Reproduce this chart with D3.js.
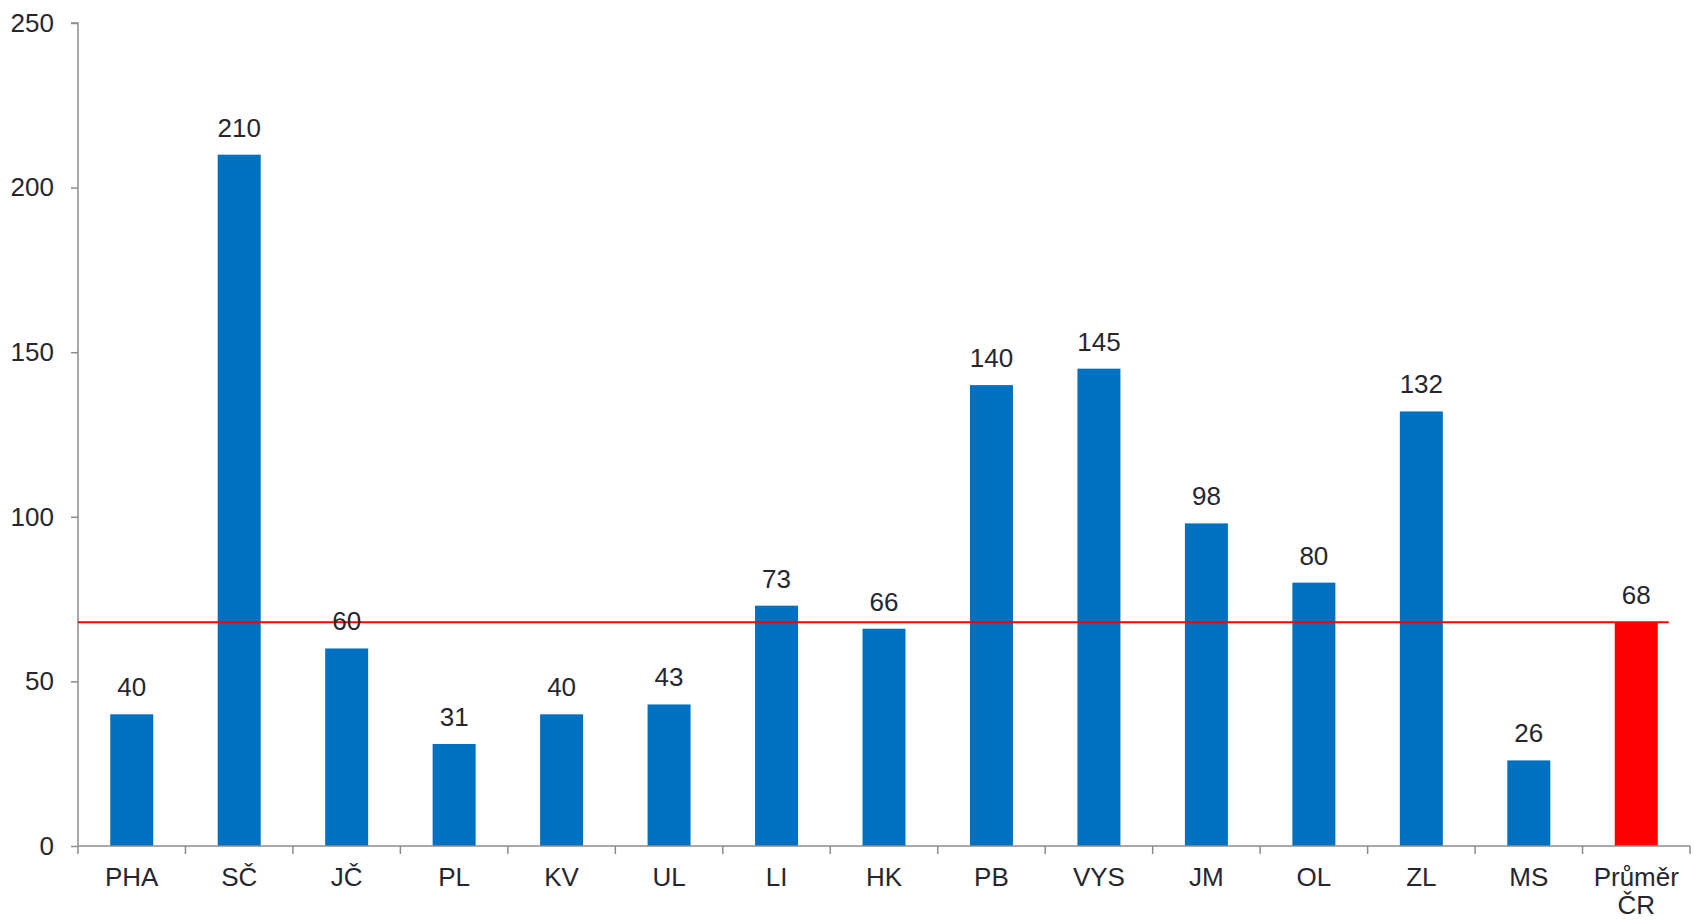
<!DOCTYPE html>
<html>
<head>
<meta charset="utf-8">
<script src="https://cdn.jsdelivr.net/npm/d3@7"></script>
<style>
  body { margin: 0; background: #fff; }
  text { font-family: "Liberation Sans", Arial, sans-serif; }
</style>
</head>
<body>
<div id="wrapper"></div>
<script>
// data
const categories = ["PHA", "SČ", "JČ", "PL", "KV", "UL", "LI", "HK", "PB", "VYS", "JM", "OL", "ZL", "MS", "Průměr\nČR"];
const values = [40, 210, 60, 31, 40, 43, 73, 66, 140, 145, 98, 80, 132, 26, 68];
const averageValue = 68;
const yTicks = [0, 50, 100, 150, 200, 250];

const dimensions = {
  width: 1694,
  height: 920,
  margin: { top: 23, right: 4, bottom: 74, left: 78 }
};
dimensions.boundedWidth = dimensions.width - dimensions.margin.left - dimensions.margin.right;
dimensions.boundedHeight = dimensions.height - dimensions.margin.top - dimensions.margin.bottom;

const svg = d3.select("#wrapper")
  .append("svg")
  .attr("width", dimensions.width)
  .attr("height", dimensions.height);

const bounds = svg.append("g")
  .attr("transform", `translate(${dimensions.margin.left},${dimensions.margin.top})`);

// scales
const xScale = d3.scaleBand()
  .domain(categories)
  .range([0, dimensions.boundedWidth])
  .paddingInner(0.6)
  .paddingOuter(0.3);

const yScale = d3.scaleLinear()
  .domain([0, 250])
  .range([dimensions.boundedHeight, 0]);

const axisColor = "#8c8c8c";
const textColor = "#26262e";
const fontSize = "26px";

// y axis
const yAxis = bounds.append("g")
  .call(d3.axisLeft(yScale).tickValues(yTicks).tickSize(7).tickPadding(17));
yAxis.selectAll("path, line").attr("stroke", axisColor).attr("stroke-width", 1.5);
yAxis.select(".domain").attr("d", `M-7,0H0V${dimensions.boundedHeight}`);
yAxis.selectAll("text")
  .attr("fill", textColor)
  .style("font-size", fontSize)
  .style("font-family", "'Liberation Sans', Arial, sans-serif");

// bars
bounds.selectAll(".bar")
  .data(values)
  .join("rect")
  .attr("class", "bar")
  .attr("x", (d, i) => xScale(categories[i]))
  .attr("width", xScale.bandwidth())
  .attr("y", (d) => yScale(d))
  .attr("height", (d) => dimensions.boundedHeight - yScale(d))
  .attr("fill", (d, i) => i === categories.length - 1 ? "#ff0000" : "#0070c0");

// average line
const stepWidth = xScale.step();
bounds.append("line")
  .attr("x1", 0)
  .attr("x2", xScale(categories[categories.length - 1]) + xScale.bandwidth() + 11)
  .attr("y1", yScale(averageValue))
  .attr("y2", yScale(averageValue))
  .attr("stroke", "#ff0000")
  .attr("stroke-width", 2);

// value labels
bounds.selectAll(".value")
  .data(values)
  .join("text")
  .attr("class", "value")
  .attr("x", (d, i) => xScale(categories[i]) + xScale.bandwidth() / 2)
  .attr("y", (d) => yScale(d) - 18)
  .attr("text-anchor", "middle")
  .attr("fill", textColor)
  .style("font-size", fontSize)
  .text((d) => d);

// x axis: baseline and ticks between categories
const xAxis = bounds.append("g")
  .attr("transform", `translate(0,${dimensions.boundedHeight})`);
xAxis.append("line")
  .attr("x1", 0)
  .attr("x2", categories.length * stepWidth)
  .attr("stroke", axisColor)
  .attr("stroke-width", 1.5);
xAxis.selectAll(".tick")
  .data(d3.range(categories.length + 1))
  .join("line")
  .attr("class", "tick")
  .attr("x1", (i) => i * stepWidth)
  .attr("x2", (i) => i * stepWidth)
  .attr("y1", 0)
  .attr("y2", 8)
  .attr("stroke", axisColor)
  .attr("stroke-width", 1.5);

const labels = xAxis.selectAll(".label")
  .data(categories)
  .join("text")
  .attr("class", "label")
  .attr("text-anchor", "middle")
  .attr("fill", textColor)
  .style("font-size", fontSize)
  .attr("transform", (d) => `translate(${xScale(d) + xScale.bandwidth() / 2},40)`);
labels.selectAll("tspan")
  .data((d) => d.split("\n"))
  .join("tspan")
  .attr("x", 0)
  .attr("dy", (d, i) => i === 0 ? 0 : 28)
  .text((d) => d);
</script>
</body>
</html>
